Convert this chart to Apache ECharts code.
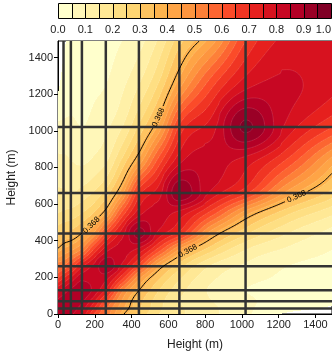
<!DOCTYPE html>
<html><head><meta charset="utf-8">
<script src="https://cdn.jsdelivr.net/npm/echarts@6/dist/echarts.min.js"></script>
<style>html,body{margin:0;padding:0;background:#fff}#c{width:332px;height:359px}</style>
</head><body><div id="c"></div><script>
// ---- data ----
const nodeHeights = [0, 30, 70, 130, 200, 260, 350, 440, 550, 660, 840, 1020, 1250, 1490];
// rows: y node (bottom -> top); columns: x node (left -> right)
const corrRow0    = [0.88,0.88,0.86,0.79,0.64,0.54,0.38,0.29,0.20,0.16,0.11,0.06,-0.01,-0.04];
const corrRow30   = [0.88,0.90,0.88,0.82,0.69,0.56,0.41,0.31,0.21,0.16,0.11,0.06,0.02,-0.01];
const corrRow70   = [0.86,0.88,0.89,0.86,0.75,0.62,0.44,0.32,0.22,0.15,0.10,0.06,0.03,0.01];
const corrRow130  = [0.79,0.82,0.86,0.88,0.83,0.74,0.51,0.37,0.25,0.17,0.09,0.05,0.03,0.01];
const corrRow200  = [0.64,0.69,0.75,0.83,0.83,0.82,0.67,0.47,0.31,0.21,0.11,0.07,0.04,0.02];
const corrRow260  = [0.54,0.56,0.62,0.74,0.82,0.89,0.78,0.62,0.40,0.27,0.14,0.09,0.05,0.03];
const corrRow350  = [0.38,0.41,0.44,0.51,0.67,0.78,0.82,0.78,0.62,0.44,0.26,0.15,0.09,0.05];
const corrRow440  = [0.29,0.31,0.32,0.37,0.47,0.62,0.78,0.92,0.78,0.68,0.41,0.26,0.15,0.08];
const corrRow550  = [0.20,0.21,0.22,0.25,0.31,0.40,0.62,0.78,0.82,0.78,0.62,0.42,0.26,0.16];
const corrRow660  = [0.16,0.16,0.15,0.17,0.21,0.27,0.44,0.68,0.78,0.94,0.78,0.66,0.43,0.28];
const corrRow840  = [0.11,0.11,0.10,0.09,0.11,0.14,0.26,0.41,0.62,0.78,0.82,0.78,0.64,0.43];
const corrRow1020 = [0.06,0.06,0.06,0.05,0.07,0.09,0.15,0.26,0.42,0.66,0.78,0.96,0.78,0.65];
const corrRow1250 = [-0.01,0.02,0.03,0.03,0.04,0.05,0.09,0.15,0.26,0.43,0.64,0.78,0.81,0.76];
const corrRow1490 = [-0.04,-0.01,0.01,0.01,0.02,0.03,0.05,0.08,0.16,0.28,0.43,0.65,0.76,0.76];
const towerHeights = [30, 70, 130, 260, 440, 660, 1020];
const heightTicks = [0, 200, 400, 600, 800, 1000, 1200, 1400];
const levelBounds = [0,0.05,0.1,0.15,0.2,0.25,0.3,0.35,0.4,0.45,0.5,0.55,0.6,0.65,0.7,0.75,0.8,0.85,0.9,0.95,1.0];
const levelColors = ['#ffffcc','#fff7b9','#fff0a7','#ffe895','#fedf83','#fed572','#fec460','#feb44e','#fea446','#fd953f',
                     '#fd8038','#fc6531','#fb4b29','#f03523','#e6201e','#d7121f','#c70723','#b30026','#9a0026','#800026'];
const colorbarTicks = [0, 0.1, 0.2, 0.3, 0.4, 0.5, 0.6, 0.7, 0.8, 0.9, 1.0];
const contourValue = 0.368;
const contourLabel = '0.368';
const labelAnchors = [[181, 486], [544, 1074], [707, 340], [1303, 627]];

// ---- build ----
const M = [corrRow0, corrRow30, corrRow70, corrRow130, corrRow200, corrRow260, corrRow350, corrRow440,
           corrRow550, corrRow660, corrRow840, corrRow1020, corrRow1250, corrRow1490];
const H = nodeHeights;
const NN = H.length;
const HMAX = H[NN - 1];

function nodeSlope(vp, v, vn, hp, hn) {
  if (vp === null) return (vn - v) / hn;
  if (vn === null) return (v - vp) / hp;
  const d0 = (v - vp) / hp, d1 = (vn - v) / hn;
  if (d0 * d1 <= 0) return 0;
  return (d0 * hn + d1 * hp) / (hp + hn);
}
function herm(v0, v1, m0, m1, t, dh) {
  const t2 = t * t, t3 = t2 * t;
  return (2 * t3 - 3 * t2 + 1) * v0 + (t3 - 2 * t2 + t) * dh * m0 + (-2 * t3 + 3 * t2) * v1 + (t3 - t2) * dh * m1;
}
const rowSlopes = M.map(row => row.map((v, k) => nodeSlope(
  k > 0 ? row[k - 1] : null, v, k < NN - 1 ? row[k + 1] : null,
  k > 0 ? H[k] - H[k - 1] : 1, k < NN - 1 ? H[k + 1] - H[k] : 1)));
function rowInterp(j, i, t) {
  return herm(M[j][i], M[j][i + 1], rowSlopes[j][i], rowSlopes[j][i + 1], t, H[i + 1] - H[i]);
}
function cellVal(i, j, t, u) {
  const g0 = rowInterp(j, i, t), g1 = rowInterp(j + 1, i, t);
  const gm = j > 0 ? rowInterp(j - 1, i, t) : null;
  const gp = j + 2 < NN ? rowInterp(j + 2, i, t) : null;
  const dh = H[j + 1] - H[j];
  const m0 = nodeSlope(gm, g0, g1, j > 0 ? H[j] - H[j - 1] : 1, dh);
  const m1 = nodeSlope(g0, g1, gp, dh, j + 2 < NN ? H[j + 2] - H[j + 1] : 1);
  return herm(g0, g1, m0, m1, u, dh);
}
function locate(h) {
  let i = 0;
  while (i < NN - 2 && h > H[i + 1]) i++;
  return [i, Math.min(1, Math.max(0, (h - H[i]) / (H[i + 1] - H[i])))];
}
function fieldAt(x, y) { const a = locate(x), b = locate(y); return cellVal(a[0], b[0], a[1], b[1]); }
function levelIndex(v) {
  if (v < levelBounds[0]) return -1;
  for (let k = 0; k < levelColors.length; k++) if (v < levelBounds[k + 1]) return k;
  return levelColors.length - 1;
}
function snap(pt, c) {
  let x = pt[0], y = pt[1];
  const h = 2;
  for (let it = 0; it < 25; it++) {
    const v = fieldAt(x, y) - c;
    const gx = (fieldAt(x + h, y) - fieldAt(x - h, y)) / (2 * h);
    const gy = (fieldAt(x, y + h) - fieldAt(x, y - h)) / (2 * h);
    const g2 = gx * gx + gy * gy; if (!g2) break;
    x -= v * gx / g2; y -= v * gy / g2;
  }
  const gx = (fieldAt(x + h, y) - fieldAt(x - h, y)) / (2 * h);
  const gy = (fieldAt(x, y + h) - fieldAt(x, y - h)) / (2 * h);
  let ang = Math.atan2(-gx, gy);
  if (ang > Math.PI / 2) ang -= Math.PI; if (ang <= -Math.PI / 2) ang += Math.PI;
  return [x, y, ang];
}
const labelSpots = labelAnchors.map(p => snap(p, contourValue));

const cells = [];
for (let j = 0; j < NN - 1; j++) for (let i = 0; i < NN - 1; i++) cells.push([i, j]);

function renderField(params, api) {
  const i = api.value(0), j = api.value(1);
  const p0 = api.coord([H[i], H[j]]);
  const p1 = api.coord([H[i + 1], H[j + 1]]);
  const xa = Math.round(p0[0]), xb = Math.round(p1[0]);
  const yb = Math.round(p0[1]), ya = Math.round(p1[1]);
  const children = [];
  for (let py = ya; py < yb; py++) {
    const u = Math.min(1, Math.max(0, (p0[1] - (py + 0.5)) / (p0[1] - p1[1])));
    let runStart = xa, runLevel = null;
    for (let px = xa; px <= xb; px++) {
      let lev = null;
      if (px < xb) {
        const t = Math.min(1, Math.max(0, ((px + 0.5) - p0[0]) / (p1[0] - p0[0])));
        lev = levelIndex(cellVal(i, j, t, u));
      }
      if (px === xb || lev !== runLevel) {
        if (px > runStart && runLevel !== null && runLevel >= 0) {
          children.push({ type: 'rect', shape: { x: runStart, y: py, width: px - runStart, height: 1 },
            style: { fill: levelColors[runLevel] } });
        }
        runStart = px; runLevel = lev;
      }
    }
  }
  return { type: 'group', children: children, silent: true };
}

function isoPath(i, j, p0, p1, levels, skip) {
  const nx = Math.max(2, Math.round(Math.abs(p1[0] - p0[0]) / 1.5));
  const ny = Math.max(2, Math.round(Math.abs(p0[1] - p1[1]) / 1.5));
  const W = nx + 1;
  const g = new Float64Array(W * (ny + 1));
  for (let l = 0; l <= ny; l++) for (let k = 0; k <= nx; k++) g[l * W + k] = cellVal(i, j, k / nx, l / ny);
  const X = t => p0[0] + t * (p1[0] - p0[0]);
  const Y = u => p0[1] + u * (p1[1] - p0[1]);
  let d = '';
  const add = (A, B) => {
    const x1 = X(A[0]), y1 = Y(A[1]), x2 = X(B[0]), y2 = Y(B[1]);
    if (skip) {
      const mx = (x1 + x2) / 2, my = (y1 + y2) / 2;
      for (const s of skip) if ((mx - s[0]) * (mx - s[0]) + (my - s[1]) * (my - s[1]) < s[2] * s[2]) return;
    }
    d += 'M' + x1.toFixed(2) + ' ' + y1.toFixed(2) + 'L' + x2.toFixed(2) + ' ' + y2.toFixed(2);
  };
  for (const level of levels) {
    for (let l = 0; l < ny; l++) for (let k = 0; k < nx; k++) {
      const a = g[l * W + k], b = g[l * W + k + 1], c = g[(l + 1) * W + k + 1], e = g[(l + 1) * W + k];
      const pts = [];
      if ((a >= level) !== (b >= level)) pts.push([(k + (level - a) / (b - a)) / nx, l / ny]);
      if ((b >= level) !== (c >= level)) pts.push([(k + 1) / nx, (l + (level - b) / (c - b)) / ny]);
      if ((e >= level) !== (c >= level)) pts.push([(k + (level - e) / (c - e)) / nx, (l + 1) / ny]);
      if ((a >= level) !== (e >= level)) pts.push([k / nx, (l + (level - a) / (e - a)) / ny]);
      if (pts.length === 2) add(pts[0], pts[1]);
      else if (pts.length === 4) {
        const ctr = (a + b + c + e) / 4;
        if ((ctr >= level) === (a >= level)) { add(pts[0], pts[1]); add(pts[2], pts[3]); }
        else { add(pts[3], pts[0]); add(pts[1], pts[2]); }
      }
    }
  }
  return d;
}

const innerLevels = levelBounds.slice(1, levelBounds.length - 1);
function renderFaint(params, api) {
  const i = api.value(0), j = api.value(1);
  const p0 = api.coord([H[i], H[j]]);
  const p1 = api.coord([H[i + 1], H[j + 1]]);
  const d = isoPath(i, j, p0, p1, innerLevels, null);
  if (!d) return null;
  return { type: 'path', shape: { pathData: d }, silent: true,
    style: { fill: null, stroke: 'rgba(255,255,255,0.2)', lineWidth: 0.6 } };
}

function renderContour(params, api) {
  const i = api.value(0), j = api.value(1);
  const p0 = api.coord([H[i], H[j]]);
  const p1 = api.coord([H[i + 1], H[j + 1]]);
  const skip = labelSpots.map(s => { const p = api.coord([s[0], s[1]]); return [p[0], p[1], 12]; });
  const d = isoPath(i, j, p0, p1, [contourValue], skip);
  if (!d) return null;
  return { type: 'path', shape: { pathData: d }, silent: true,
    style: { fill: null, stroke: '#000', lineWidth: 1 } };
}

function renderLabel(params, api) {
  const s = labelSpots[params.dataIndex];
  const p = api.coord([s[0], s[1]]);
  return { type: 'text', x: p[0], y: p[1], rotation: s[2], silent: true,
    style: { text: contourLabel, fill: '#000', fontSize: 8, fontFamily: 'Liberation Sans',
      align: 'center', verticalAlign: 'middle' } };
}

function renderTowers(params, api) {
  const h = api.value(0);
  const a = api.coord([h, 0]), b = api.coord([h, HMAX]);
  const c = api.coord([0, h]), d = api.coord([HMAX, h]);
  const st = { stroke: '#333', lineWidth: 2.5 };
  return { type: 'group', silent: true, children: [
    { type: 'line', shape: { x1: a[0], y1: a[1], x2: b[0], y2: b[1] }, style: st },
    { type: 'line', shape: { x1: c[0], y1: c[1], x2: d[0], y2: d[1] }, style: st }
  ] };
}

function renderBar(params, api) {
  const k = api.value(0);
  const p0 = api.coord([levelBounds[k], 0]);
  const p1 = api.coord([levelBounds[k + 1], 1]);
  const x0 = Math.round(p0[0]) + 0.5, x1 = Math.round(p1[0]) + 0.5;
  const y0 = Math.round(p1[1]) + 0.5, y1 = Math.round(p0[1]) + 0.5;
  return { type: 'rect', silent: true, shape: { x: x0, y: y0, width: x1 - x0, height: y1 - y0 },
    style: { fill: levelColors[k], stroke: '#000', lineWidth: 1 } };
}

const FONT = 'Liberation Sans';
const axisCommon = {
  type: 'value', min: 0, max: HMAX, gridIndex: 0,
  axisLine: { show: true, onZero: false, lineStyle: { color: '#000', width: 1 } },
  axisTick: { show: true, inside: false, length: 4, lineStyle: { color: '#000' }, customValues: heightTicks },
  axisLabel: { color: '#222', fontSize: 11, fontFamily: FONT, margin: 5, customValues: heightTicks,
    formatter: v => String(v) },
  splitLine: { show: false },
  name: 'Height (m)', nameLocation: 'middle',
  nameTextStyle: { color: '#222', fontSize: 12, fontFamily: FONT }
};

const chart = echarts.init(document.getElementById('c'), null, { renderer: 'canvas' });
chart.setOption({
  animation: false,
  backgroundColor: '#fff',
  textStyle: { fontFamily: FONT },
  grid: [
    { left: 58, top: 41, width: 274, height: 273, show: true, borderColor: '#000', borderWidth: 1,
      backgroundColor: 'transparent', containLabel: false, outerBoundsMode: 'none' },
    { left: 58, top: 3, width: 273, height: 15, containLabel: false, outerBoundsMode: 'none' }
  ],
  xAxis: [
    Object.assign({}, axisCommon, { nameGap: 25 }),
    { type: 'value', gridIndex: 1, min: 0, max: 1, interval: 0.1,
      axisLine: { show: false }, axisTick: { show: false }, splitLine: { show: false },
      axisLabel: { color: '#222', fontSize: 11, fontFamily: FONT, margin: 6, customValues: colorbarTicks,
        formatter: v => v.toFixed(1), alignMaxLabel: 'right' } }
  ],
  yAxis: [
    Object.assign({}, axisCommon, { nameGap: 34 }),
    { type: 'value', gridIndex: 1, min: 0, max: 1, show: false }
  ],
  series: [
    { type: 'custom', xAxisIndex: 0, yAxisIndex: 0, data: cells, renderItem: renderField, z: 1, clip: true },
    { type: 'custom', xAxisIndex: 0, yAxisIndex: 0, data: cells, renderItem: renderFaint, z: 2, clip: true },
    { type: 'custom', xAxisIndex: 0, yAxisIndex: 0, data: towerHeights.map(h => [h]), renderItem: renderTowers, z: 3, clip: true },
    { type: 'custom', xAxisIndex: 0, yAxisIndex: 0, data: cells, renderItem: renderContour, z: 4, clip: true },
    { type: 'custom', xAxisIndex: 0, yAxisIndex: 0, data: labelSpots.map((s, k) => [k]), renderItem: renderLabel, z: 5 },
    { type: 'custom', xAxisIndex: 1, yAxisIndex: 1, data: levelColors.map((c, k) => [k]), renderItem: renderBar, z: 2 }
  ]
});
</script></body></html>
